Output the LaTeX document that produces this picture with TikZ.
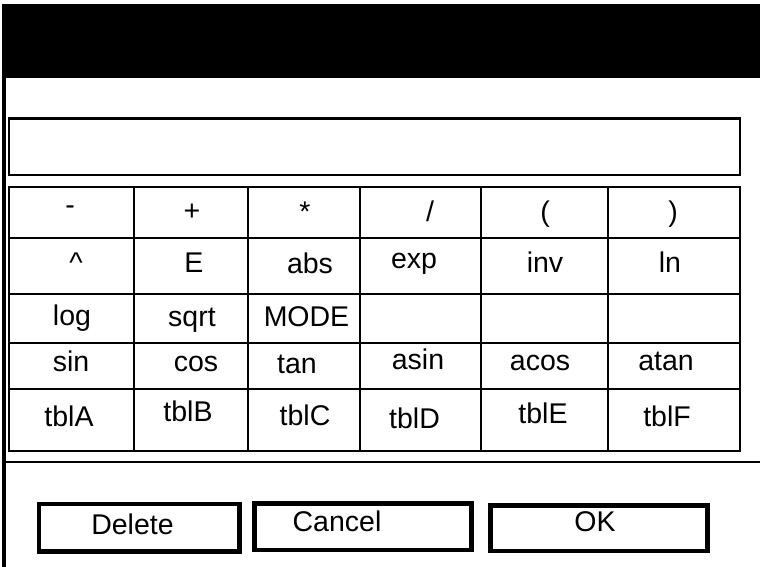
\documentclass[tikz,border=0pt]{standalone}
\usepackage{fontspec}
\setmainfont{Liberation Sans}
\begin{document}
\begin{tikzpicture}[x=1pt,y=-1pt,
  lbl/.style={anchor=base,inner sep=0pt,font=\fontsize{28.5}{32}\selectfont},
  grid/.style={line width=2pt},
  btn/.style={line width=4.5pt}]
\useasboundingbox (0,0) rectangle (760,567);
% header bar
\fill[black] (2,4) rectangle (760,77.7);
% left vertical bar
\draw[line width=4pt] (4.3,77) -- (4.3,567);
% input box
\draw[line width=2.2pt] (9.2,118.5) rectangle (739.8,174.8);
% table grid
\draw[grid] (9.2,186.8) rectangle (739.8,450.5);
\foreach \yy in {237.5,294,342.5,389.2}
  \draw[grid] (9.2,\yy) -- (739.8,\yy);
\foreach \xx in {134.3,247.8,360.2,481,607.8}
  \draw[grid] (\xx,186.8) -- (\xx,450.5);
% separator
\draw[line width=2.3pt] (4.3,461.7) -- (760,461.7);
% row 1
\node[lbl] (k11) at (70,214) {-};
\node[lbl] (k12) at (192,220) {+};
\node[lbl] (k13) at (305,221) {*};
\node[lbl] (k14) at (430,221) {/};
\node[lbl] (k15) at (545,221) {(};
\node[lbl] (k16) at (673,221) {)};
% row 2
\node[lbl] (k21) at (76,272.5) {\textasciicircum};
\node[lbl] (k22) at (194,272.3) {E};
\node[lbl] (k23) at (310,273.3) {abs};
\node[lbl] (k24) at (414,268.3) {exp};
\node[lbl] (k25) at (545,272.5) {inv};
\node[lbl] (k26) at (670,272.7) {ln};
% row 3
\node[lbl] (k31) at (72,325) {log};
\node[lbl] (k32) at (192,326.7) {sqrt};
\node[lbl] (k33) at (306.5,326.7) {MODE};
% row 4
\node[lbl] (k41) at (71,371.7) {sin};
\node[lbl] (k42) at (196,371.7) {cos};
\node[lbl] (k43) at (297,373.3) {tan};
\node[lbl] (k44) at (418,369.3) {asin};
\node[lbl] (k45) at (540,370) {acos};
\node[lbl] (k46) at (666,370) {atan};
% row 5
\node[lbl] (k51) at (69,426) {tblA};
\node[lbl] (k52) at (188,421.7) {tblB};
\node[lbl] (k53) at (305,425) {tblC};
\node[lbl] (k54) at (414.5,428.3) {tblD};
\node[lbl] (k55) at (543,423.3) {tblE};
\node[lbl] (k56) at (667,426.7) {tblF};
% buttons
\draw[btn] (39,504) rectangle (239.7,551.3);
\draw[btn] (254.5,503.7) rectangle (471.7,550);
\draw[btn] (490.5,505.5) rectangle (707.5,550.8);
\node[lbl] (bdel) at (132.5,534.3) {Delete};
\node[lbl] (bcan) at (337,531.7) {Cancel};
\node[lbl] (bok) at (595,531.7) {OK};
\end{tikzpicture}
\end{document}
